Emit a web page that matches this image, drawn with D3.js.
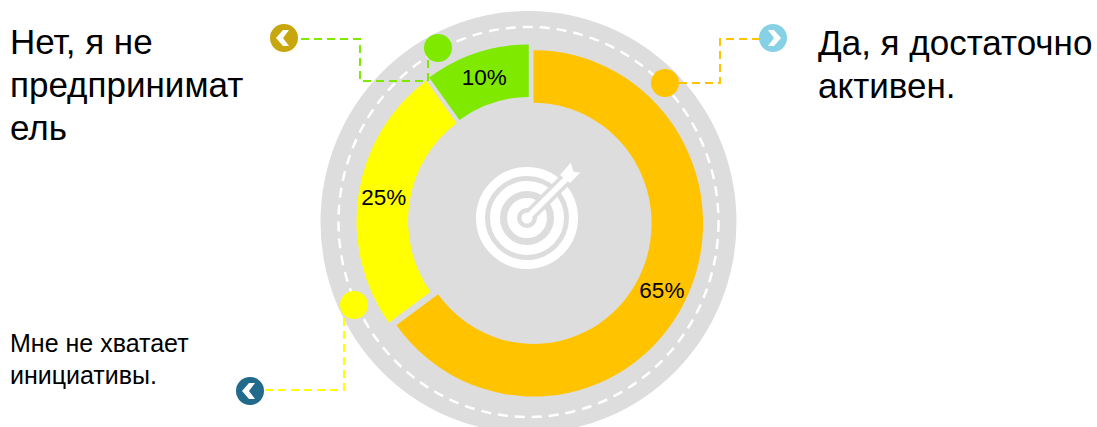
<!DOCTYPE html>
<html>
<head>
<meta charset="utf-8">
<script src="https://cdn.jsdelivr.net/npm/d3@7"></script>
<style>
  html, body { margin: 0; background: #fff; overflow: hidden; }
  svg { display: block; font-family: "Liberation Sans", Arial, sans-serif; }
</style>
</head>
<body>
<svg id="chart" width="1097" height="427"></svg>
<script>
// Chart data
const answers = ["Да, я достаточно активен.", "Мне не хватает инициативы.", "Нет, я не предприниматель"];
const shares = [65, 25, 10];
const sliceColors = ["#FFC300", "#FFFF00", "#7FE900"];

// Caption lines, wrapped as in the picture
const captionLines = [
    ["Да, я достаточно", "активен."],
    ["Мне не хватает", "инициативы."],
    ["Нет, я не", "предпринимат", "ель"]
];
const captionSizes = [35, 25, 35];
const captionPos = [[818, 55], [10, 352], [10, 54]];
const captionLeading = [43, 32, 43];

// Callouts: dot on the ring, elbow of the dashed line, badge
const dotPos = [[665, 83], [354, 305], [438, 48]];
const leaderPaths = [
    [[679, 83], [720, 83], [720, 39], [760, 39]],
    [[344, 318], [344, 390], [264, 390]],
    [[428, 60], [428, 81], [360, 81], [360, 39], [298, 39]]
];
const badgePos = [[773, 38], [250, 391], [284, 38]];
const badgeColors = ["#87D1E6", "#216A8C", "#C7A60E"];
const badgeDirection = [1, -1, -1];

const cx = 530, cy = 221.5;
const squash = 1.022;
const svg = d3.select("#chart");

// Grey backing disc and the dashed ring
svg.append("ellipse")
    .attr("cx", 528.5).attr("cy", 222)
    .attr("rx", 208).attr("ry", 211)
    .attr("fill", "#DDDDDD");

svg.append("ellipse")
    .attr("cx", 528.5).attr("cy", 222)
    .attr("rx", 190).attr("ry", 195)
    .attr("fill", "none")
    .attr("stroke", "#fff")
    .attr("stroke-width", 2.5)
    .attr("stroke-dasharray", "10 7");

// Donut, every slice pushed out a little along its middle angle
const pie = d3.pie().sort(null)(shares);
const arc = d3.arc().innerRadius(118).outerRadius(169.5);
const labelArc = d3.arc().innerRadius(144).outerRadius(144);
const explode = 4;

const donut = svg.append("g")
    .attr("transform", `translate(${cx},${cy}) scale(1,${squash})`);

const slices = donut.selectAll("g")
    .data(pie)
    .enter()
    .append("g")
    .attr("transform", d => {
        const mid = (d.startAngle + d.endAngle) / 2;
        return `translate(${Math.sin(mid) * explode},${-Math.cos(mid) * explode})`;
    });

slices.append("path")
    .attr("d", arc)
    .attr("fill", (d, i) => sliceColors[i]);

slices.append("text")
    .attr("transform", d => `translate(${labelArc.centroid(d)}) scale(1,${1 / squash})`)
    .attr("text-anchor", "middle")
    .attr("dy", "0.34em")
    .attr("font-size", 22.5)
    .attr("fill", "#000")
    .text(d => d.value + "%");

// Target icon in the centre
const target = svg.append("g").attr("transform", "translate(527,218)");
[[46.5, 9], [32, 10], [15, 10]].forEach(r => {
    target.append("circle")
        .attr("r", r[0])
        .attr("fill", "none")
        .attr("stroke", "#fff")
        .attr("stroke-width", r[1]);
});
target.append("circle").attr("r", 5.5).attr("fill", "#fff");
// Grey gap around the shaft, then the shaft and fletching
target.append("line")
    .attr("x1", 3).attr("y1", -3).attr("x2", 44).attr("y2", -44)
    .attr("stroke", "#DDDDDD").attr("stroke-width", 13);
target.append("line")
    .attr("x1", 0).attr("y1", 0).attr("x2", 40).attr("y2", -40)
    .attr("stroke", "#fff").attr("stroke-width", 6);
target.append("path")
    .attr("d", "M33,-43 L43.7,-55.3 L46.5,-46.5 L53,-45.3 L43,-35 Z")
    .attr("fill", "#fff");

// Dashed leader lines
const line = d3.line();
svg.selectAll(".leader")
    .data(leaderPaths)
    .enter()
    .append("path")
    .attr("class", "leader")
    .attr("d", line)
    .attr("fill", "none")
    .attr("stroke", (d, i) => sliceColors[i])
    .attr("stroke-width", 2)
    .attr("stroke-dasharray", "8 5");

// Dots on the ring
svg.selectAll(".dot")
    .data(dotPos)
    .enter()
    .append("circle")
    .attr("class", "dot")
    .attr("cx", d => d[0]).attr("cy", d => d[1])
    .attr("r", 14)
    .attr("fill", (d, i) => sliceColors[i]);

// Badges with a chevron
const badges = svg.selectAll(".badge")
    .data(badgePos)
    .enter()
    .append("g")
    .attr("class", "badge")
    .attr("transform", d => `translate(${d[0]},${d[1]})`);

badges.append("circle")
    .attr("r", 14)
    .attr("fill", (d, i) => badgeColors[i]);

badges.append("path")
    .attr("d", "M-5,-8 L1,-8 L8,0 L1,8 L-5,8 L1,0 Z")
    .attr("transform", (d, i) => `scale(${badgeDirection[i]},1)`)
    .attr("fill", "#fff");

// Captions
captionLines.forEach((lines, i) => {
    const text = svg.append("text")
        .attr("x", captionPos[i][0])
        .attr("y", captionPos[i][1])
        .attr("font-size", captionSizes[i])
        .attr("fill", "#000");
    lines.forEach((l, j) => {
        text.append("tspan")
            .attr("x", captionPos[i][0])
            .attr("y", captionPos[i][1] + j * captionLeading[i])
            .text(l);
    });
});
</script>
</body>
</html>
